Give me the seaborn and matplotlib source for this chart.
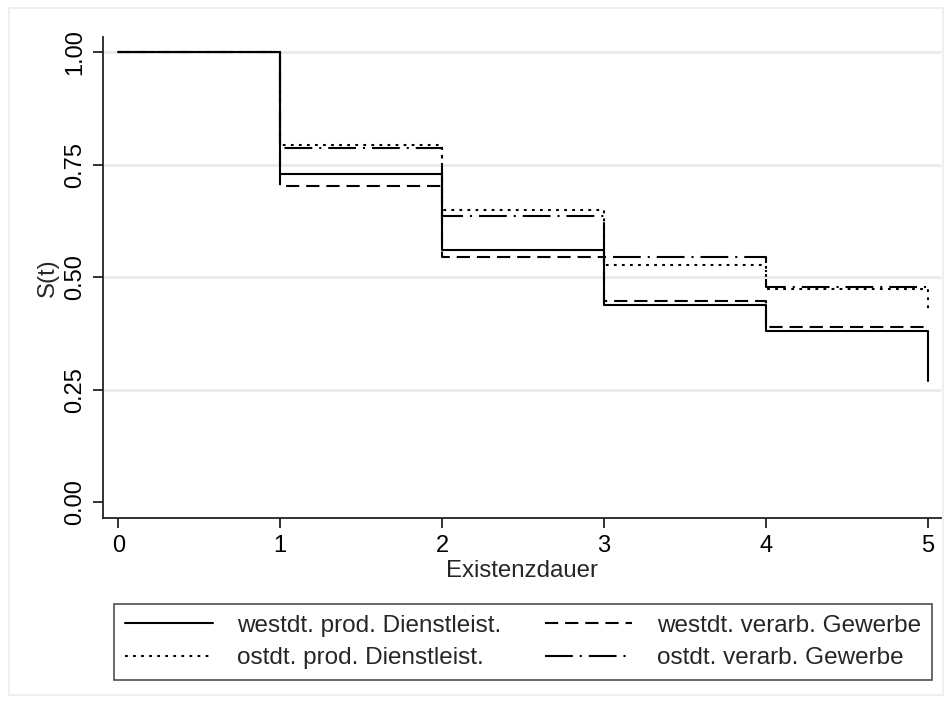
import matplotlib
matplotlib.use("Agg")
import matplotlib.pyplot as plt
import seaborn as sns
import pandas as pd
from matplotlib.lines import Line2D
from matplotlib.patches import Rectangle

# ---- data ----
times = [0, 1, 2, 3, 4, 5]
west_prod = [1.00, 0.729, 0.561, 0.438, 0.381, 0.270]
west_verarb = [1.00, 0.702, 0.544, 0.448, 0.389, 0.389]
ost_prod = [1.00, 0.794, 0.649, 0.527, 0.474, 0.420]
ost_verarb = [1.00, 0.787, 0.636, 0.545, 0.479, 0.479]
labels = ["westdt. prod. Dienstleist.", "westdt. verarb. Gewerbe",
          "ostdt. prod. Dienstleist.", "ostdt. verarb. Gewerbe"]
yticks = [0.00, 0.25, 0.50, 0.75, 1.00]
xticks = [0, 1, 2, 3, 4, 5]

series = [west_prod, west_verarb, ost_prod, ost_verarb]
rows = []
for lab, vals in zip(labels, series):
    for t, v in zip(times, vals):
        rows.append({"t": t, "S": v, "group": lab})
df = pd.DataFrame(rows)

sns.set_theme(style="white")
plt.rcParams["font.family"] = ["Liberation Sans", "DejaVu Sans"]
plt.rcParams["lines.scale_dashes"] = False

dash_map = {
    labels[0]: "",
    labels[1]: (9.5, 5.0),
    labels[2]: (2.0, 3.8),
    labels[3]: (20.0, 5.0, 1.5, 5.0),
}

fig = plt.figure(figsize=(9.52, 7.02), dpi=100)
fig.patch.set_facecolor("white")
fig.patches.append(Rectangle((0.009, 0.010), 0.982, 0.978, transform=fig.transFigure,
                             fill=False, edgecolor="#ececec", linewidth=1.2))
ax = fig.add_axes([0.108, 0.262, 0.880, 0.686])

sns.lineplot(data=df, x="t", y="S", hue="group", style="group",
             palette={l: "black" for l in labels}, dashes=dash_map,
             hue_order=labels, style_order=labels,
             drawstyle="steps-post", errorbar=None, linewidth=1.5,
             legend=False, ax=ax, zorder=3)

ax.set_xlim(-0.095, 5.08)
ax.set_ylim(-0.035, 1.035)
ax.set_yticks(yticks)
ax.set_yticklabels([f"{v:.2f}" for v in yticks], rotation=90, va="center")
ax.set_xticks(xticks)
ax.set_xticklabels([str(x) for x in xticks])
for v in yticks[1:]:
    ax.axhline(v, color="#e8e8e8", linewidth=1.8, zorder=1)

for s in ["top", "right"]:
    ax.spines[s].set_visible(False)
for s in ["left", "bottom"]:
    ax.spines[s].set_color("#222222")
    ax.spines[s].set_linewidth(1.3)
ax.tick_params(axis="both", which="major", direction="out", length=7, width=1.3,
               color="#222222", labelsize=17, labelcolor="black", pad=5,
               left=True, bottom=True)
ax.set_xlabel("Existenzdauer", fontsize=17.3, labelpad=2)
ax.set_ylabel("S(t)", fontsize=17.3, labelpad=4)

handles = [Line2D([0], [0], color="black", linewidth=1.5, linestyle="-"),
           Line2D([0], [0], color="black", linewidth=1.5, dashes=dash_map[labels[2]]),
           Line2D([0], [0], color="black", linewidth=1.5, dashes=dash_map[labels[1]]),
           Line2D([0], [0], color="black", linewidth=1.5, dashes=dash_map[labels[3]])]
hlabels = [labels[0], labels[2], labels[1], labels[3]]
leg = fig.legend(handles, hlabels, ncol=2, loc="center",
                 bbox_to_anchor=(0.5494, 0.0855, 0.0, 0.0),
                 frameon=True, fancybox=False, edgecolor="#222222",
                 fontsize=17.5, handlelength=3.6, handletextpad=1.0,
                 columnspacing=1.8, labelspacing=0.42, borderpad=0.45)
leg.get_frame().set_linewidth(1.2)

fig.savefig("out.png", dpi=100, facecolor="white")
